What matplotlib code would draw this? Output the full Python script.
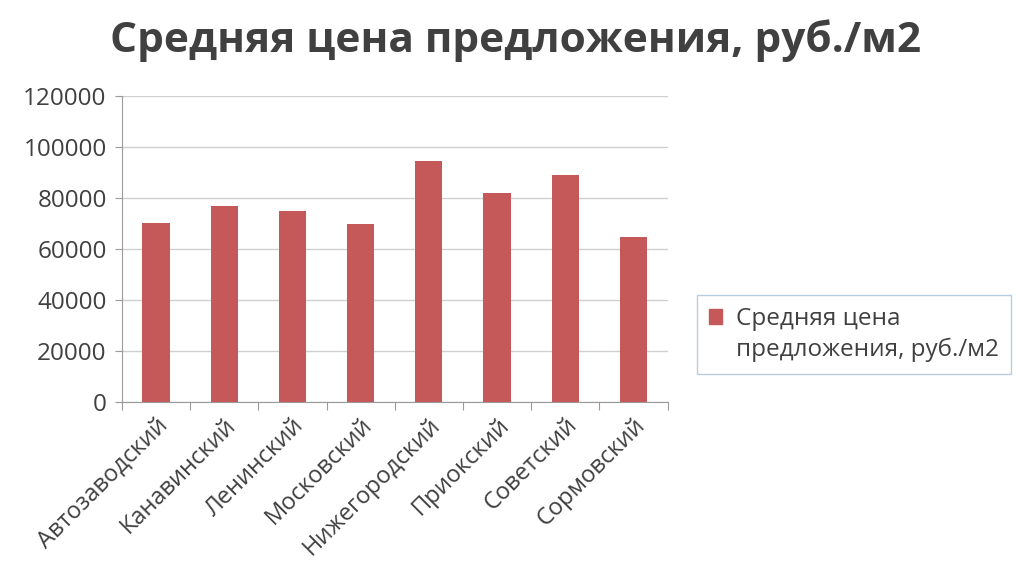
import matplotlib
matplotlib.use('Agg')
import matplotlib.pyplot as plt
from matplotlib.patches import Patch

plt.rcParams['font.family'] = ['Open Sans', 'DejaVu Sans']

# data
districts = ['Автозаводский', 'Канавинский', 'Ленинский', 'Московский',
             'Нижегородский', 'Приокский', 'Советский', 'Сормовский']
prices = [70200, 76900, 74800, 69800, 94500, 82000, 89200, 64700]
series_name = 'Средняя цена\nпредложения, руб./м2'
title = 'Средняя цена предложения, руб./м2'
yticks = [0, 20000, 40000, 60000, 80000, 100000, 120000]

bar_color = '#c55858'
axis_color = '#9a9a9a'
text_color = '#404040'

fig = plt.figure(figsize=(10.16, 5.87), dpi=100)
ax = fig.add_axes([0.120, 0.315, 0.537, 0.521])

x = range(len(districts))
ax.bar(x, prices, width=0.4, color=bar_color, zorder=3)

ax.set_xlim(-0.5, len(districts) - 0.5)
ax.set_ylim(0, 120000)
ax.set_yticks(yticks)
ax.set_yticklabels([str(v) for v in yticks], fontsize=17.5, color=text_color)

# category tick marks sit between the categories
ax.set_xticks([i - 0.5 for i in range(len(districts) + 1)], minor=False)
ax.set_xticklabels([])
ax.set_xticks(list(x), minor=True)
ax.set_xticklabels(districts, minor=True, rotation=45, ha='right',
                   rotation_mode='anchor', fontsize=17, color=text_color)
ax.tick_params(axis='x', which='minor', length=0, pad=8)
ax.tick_params(axis='x', which='major', length=6, color=axis_color, direction='out')
ax.tick_params(axis='y', length=5, color=axis_color, direction='out', pad=6)

ax.grid(axis='y', color='#d0d0d0', linewidth=1, zorder=0)
for side in ['top', 'right']:
    ax.spines[side].set_visible(False)
ax.spines['left'].set_color(axis_color)
ax.spines['bottom'].set_color(axis_color)

fig.text(0.507, 0.93, title, ha='center', va='center', fontsize=30.5,
         fontweight='bold', color=text_color)

# Excel puts the marker next to the first line of a wrapped label,
# so the second line goes in as an entry with an empty handle
label_lines = series_name.split('\n')
handles = [Patch(color=bar_color), Patch(facecolor='none', edgecolor='none')]
leg = fig.legend(handles=handles, labels=label_lines,
                 loc='center left', bbox_to_anchor=(0.686, 0.43),
                 fontsize=17.5, frameon=True, fancybox=False,
                 handlelength=0.55, handleheight=0.55, handletextpad=0.55,
                 borderpad=0.5, borderaxespad=0, labelspacing=0.25)
leg.get_frame().set_edgecolor('#a9c0d8')
leg.get_frame().set_linewidth(1)
for t in leg.get_texts():
    t.set_color(text_color)

fig.savefig('out.png', dpi=100)
